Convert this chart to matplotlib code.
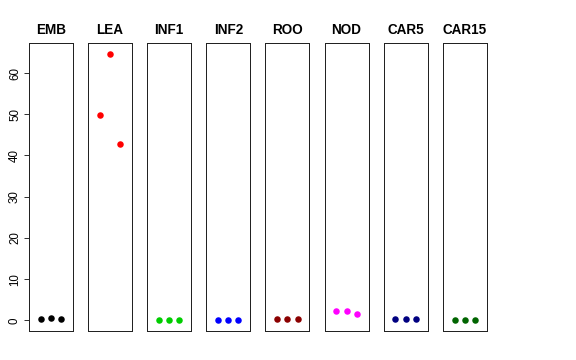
import matplotlib
matplotlib.use('Agg')
import matplotlib.pyplot as plt

plt.rcParams['font.family'] = ['Liberation Sans', 'DejaVu Sans']

# Tissues and their three replicate values
tissues = ['EMB', 'LEA', 'INF1', 'INF2', 'ROO', 'NOD', 'CAR5', 'CAR15']
values = [
    [0.2, 0.6, 0.4],
    [49.9, 64.6, 42.7],
    [0.1, 0.1, 0.1],
    [0.0, 0.0, 0.0],
    [0.25, 0.25, 0.25],
    [2.3, 2.3, 1.6],
    [0.25, 0.25, 0.25],
    [0.0, 0.0, 0.0],
]
colors = ['black', 'red', '#00CD00', 'blue', '#8B0000', 'magenta', '#000080', '#006400']
yticks = [0, 10, 20, 30, 40, 50, 60]

W, H = 576, 360
fig = plt.figure(figsize=(W / 72, H / 72), dpi=72)

left0, top, bottom = 29, 43, 331
pw, step = 44, 59.1
ymin, ymax = -2.6, 67.3

for i, (name, vals, col) in enumerate(zip(tissues, values, colors)):
    x0 = left0 + i * step
    ax = fig.add_axes([x0 / W, 1 - bottom / H, pw / W, (bottom - top) / H])
    ax.plot([1, 2, 3], vals, 'o', color=col, markersize=6.5, markeredgewidth=0)
    ax.set_xlim(-0.16, 4.16)
    ax.set_ylim(ymin, ymax)
    ax.set_xticks([])
    for s in ax.spines.values():
        s.set_linewidth(1)
        s.set_color('#222222')
    ax.set_title(name, fontsize=13.5, fontweight='bold', pad=9)
    if i == 0:
        ax.set_yticks(yticks)
        ax.set_yticklabels([str(t) for t in yticks], rotation=90, va='center', fontsize=11.5)
        ax.tick_params(axis='y', length=5, width=0.8, pad=3)
    else:
        ax.set_yticks([])

fig.savefig('out.png', dpi=72)
